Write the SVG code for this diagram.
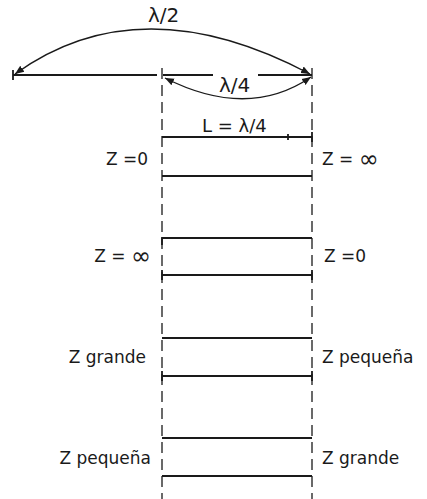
<svg xmlns="http://www.w3.org/2000/svg" width="427" height="499" viewBox="0 0 427 499">
<style>
  text { font-family: "DejaVu Sans", "Liberation Sans", sans-serif; fill: #1a1a1a; }
  .lbl { font-size: 17px; }
  .inf { font-size: 24px; }
  .lam { font-size: 20px; }
  .ln { stroke: #1a1a1a; stroke-width: 1.8; fill: none; }
  .dash { stroke: #1a1a1a; stroke-width: 1.3; stroke-dasharray: 11 6; fill: none; }
  .arc { stroke: #1a1a1a; stroke-width: 1.4; fill: none; }
</style>
<defs>
  <marker id="ah" viewBox="0 0 10 10" refX="10" refY="5" markerWidth="9" markerHeight="9" markerUnits="userSpaceOnUse" orient="auto-start-reverse">
    <path d="M0,1 L10,5 L0,9 Z" fill="#1a1a1a"/>
  </marker>
</defs>
<g id="guides">
  <line class="dash" x1="162" y1="68" x2="162" y2="499"/>
  <line class="dash" x1="312" y1="68" x2="312" y2="499"/>
</g>
<g id="connectors">
  <line class="ln" x1="13" y1="75" x2="157" y2="75"/>
  <line class="ln" x1="163" y1="75" x2="213" y2="75"/>
  <line class="ln" x1="258" y1="75" x2="312" y2="75"/>
  <line class="ln" x1="13" y1="70" x2="13" y2="80"/>
  <path class="arc" d="M15,74 Q140,-16 310,74" marker-start="url(#ah)" marker-end="url(#ah)"/>
  <path class="arc" d="M165,78 Q248,120 311,77" marker-start="url(#ah)" marker-end="url(#ah)"/>
</g>
<g id="labels-top">
  <text class="lam" x="148" y="22">λ/2</text>
  <text class="lam" x="219" y="92">λ/4</text>
  <text class="lbl" x="202" y="132" style="font-size:18px">L = λ/4</text>
</g>
<g id="row1">
  <line class="ln" x1="162" y1="137" x2="312" y2="137"/>
  <line class="ln" x1="288" y1="134" x2="288" y2="140"/>
  <line class="ln" x1="312" y1="132" x2="312" y2="142"/>
  <line class="ln" x1="162" y1="176" x2="312" y2="176"/>
  <text class="lbl" x="148" y="165" text-anchor="end">Z =0</text>
  <text class="lbl" x="322" y="165">Z = <tspan class="inf" dy="2">∞</tspan></text>
</g>
<g id="row2">
  <line class="ln" x1="162" y1="238" x2="312" y2="238"/>
  <line class="ln" x1="162" y1="237" x2="162" y2="245"/>
  <line class="ln" x1="162" y1="275" x2="312" y2="275"/>
  <line class="ln" x1="162" y1="270" x2="162" y2="280"/>
  <line class="ln" x1="312" y1="270" x2="312" y2="280"/>
  <text class="lbl" x="151" y="262" text-anchor="end">Z = <tspan class="inf" dy="2">∞</tspan></text>
  <text class="lbl" x="324" y="262">Z =0</text>
</g>
<g id="row3">
  <line class="ln" x1="162" y1="338" x2="312" y2="338"/>
  <line class="ln" x1="162" y1="376" x2="312" y2="376"/>
  <line class="ln" x1="162" y1="371" x2="162" y2="381"/>
  <line class="ln" x1="312" y1="371" x2="312" y2="381"/>
  <text class="lbl" x="146" y="363" text-anchor="end">Z grande</text>
  <text class="lbl" x="322" y="363">Z pequeña</text>
</g>
<g id="row4">
  <line class="ln" x1="162" y1="438" x2="312" y2="438"/>
  <line class="ln" x1="162" y1="476" x2="312" y2="476"/>
  <text class="lbl" x="151" y="464" text-anchor="end">Z pequeña</text>
  <text class="lbl" x="322" y="464">Z grande</text>
</g>
</svg>
